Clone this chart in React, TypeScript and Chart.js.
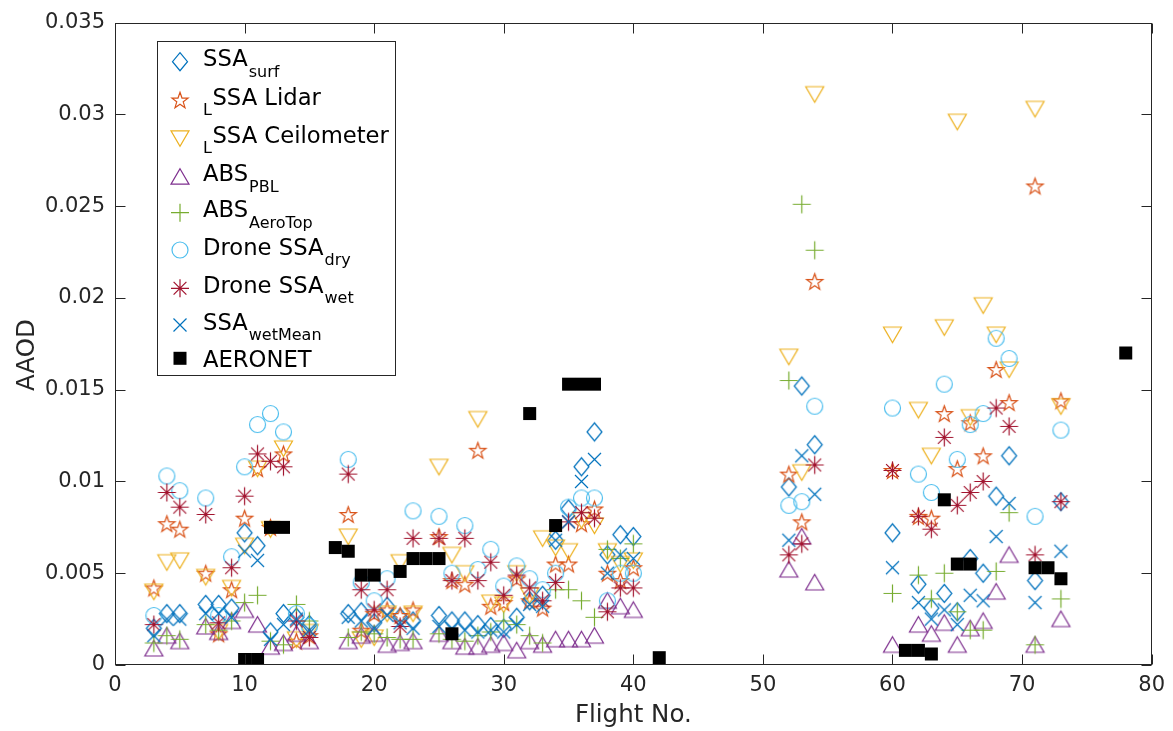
import React, { useEffect, useRef } from 'react';
import { Chart, registerables } from 'chart.js';

Chart.register(...registerables);

// ---------------- data ----------------
const flights = [
  3, 4, 5, 7, 8, 9, 10, 11, 12, 13, 14, 15,
  18, 19, 20, 21, 22, 23, 25, 26, 27, 28, 29, 30,
  31, 32, 33, 34, 35, 36, 37, 38, 39, 40,
  52, 53, 54,
  60, 62, 63, 64, 65, 66, 67, 68, 69,
  71, 73,
];

const ssaSurf = [
  0.0020, 0.0028, 0.0028, 0.0033, 0.0033, 0.0031, 0.0072, 0.0065, 0.0018, 0.0028, 0.0026, 0.0022,
  0.0028, 0.0029, 0.0023, 0.0032, 0.0026, 0.0024, 0.0027, 0.0024, 0.0024, 0.0022, 0.0021, 0.0020,
  0.0026, 0.0035, 0.0038, 0.0068, 0.0085, 0.0108, 0.0127, 0.0060, 0.0071, 0.0070,
  0.0097, 0.0152, 0.0120,
  0.0072, 0.0044, 0.0031, 0.0039, 0.0029, 0.0058, 0.0050, 0.0092, 0.0114,
  0.0046, 0.0089,
];

const ssaLidar = [
  0.0042, 0.0077, 0.0074, 0.0050, 0.0017, 0.0041, 0.0080, 0.0107, 0.0075, 0.0115, 0.0013, 0.0016,
  0.0082, 0.0019, 0.0028, 0.0030, 0.0027, 0.0030, 0.0070, 0.0046, 0.0044, 0.0117, 0.0032, 0.0034,
  0.0047, 0.0035, 0.0031, 0.0055, 0.0055, 0.0077, 0.0085, 0.0050, 0.0046, 0.0053,
  0.0104, 0.0078, 0.0209,
  0.0106, 0.0081, 0.0080, 0.0137, 0.0107, 0.0132, 0.0114, 0.0161, 0.0143,
  0.0261, 0.0144,
];

const ssaCeil = [
  0.0040, 0.0056, 0.0057, 0.0048, 0.0018, 0.0042, 0.0065, 0.0107, 0.0074, 0.0118, 0.0014, 0.0018,
  0.0070, 0.0014, 0.0015, 0.0028, 0.0056, 0.0028, 0.0108, 0.0060, 0.0050, 0.0134, 0.0034, 0.0033,
  0.0050, 0.0038, 0.0069, 0.0064, 0.0062, 0.0079, 0.0076, 0.0062, 0.0055, 0.0057,
  0.0168, 0.0105, 0.0311,
  0.0180, 0.0139, 0.0114, 0.0184, 0.0296, 0.0135, 0.0196, 0.0180, 0.0161,
  0.0303, 0.0141,
];

const absPBL = [
  0.0009, 0.0016, 0.0013, 0.0021, 0.0018, 0.0024, 0.0030, 0.0022, 0.0010, 0.0012, 0.0017, 0.0013,
  0.0013, 0.0016, 0.0017, 0.0011, 0.0012, 0.0013, 0.0017, 0.0013, 0.0010, 0.0010, 0.0011, 0.0012,
  0.0008, 0.0013, 0.0011, 0.0014, 0.0014, 0.0014, 0.0016, 0.0035, 0.0032, 0.0030,
  0.0052, 0.0070, 0.0045,
  0.0011, 0.0022, 0.0017, 0.0023, 0.0011, 0.0020, 0.0024, 0.0040, 0.0060,
  0.0011, 0.0025,
];

const absAeroTop = [
  0.0012, 0.0016, 0.0014, 0.0022, 0.0019, 0.0024, 0.0034, 0.0038, 0.0013, 0.0011, 0.0033, 0.0024,
  0.0015, 0.0018, 0.0017, 0.0015, 0.0014, 0.0014, 0.0017, 0.0014, 0.0013, 0.0016, 0.0018, 0.0024,
  0.0022, 0.0016, 0.0012, 0.0041, 0.0041, 0.0035, 0.0026, 0.0063, 0.0058, 0.0066,
  0.0155, 0.0251, 0.0226,
  0.0039, 0.0049, 0.0036, 0.0050, 0.0029, 0.0019, 0.0019, 0.0051, 0.0083,
  0.0011, 0.0036,
];

const droneDry = [
  0.0027, 0.0103, 0.0095, 0.0091, 0.0027, 0.0059, 0.0108, 0.0131, 0.0137, 0.0127, 0.0028, 0.0021,
  0.0112, 0.0045, 0.0035, 0.0047, null, 0.0084, 0.0081, 0.0050, 0.0076, 0.0052, 0.0063, 0.0043,
  0.0054, 0.0047, 0.0041, 0.0050, 0.0086, 0.0091, 0.0091, 0.0035, 0.0050, 0.0050,
  0.0087, 0.0089, 0.0141,
  0.0140, 0.0104, 0.0094, 0.0153, 0.0112, 0.0131, 0.0137, 0.0178, 0.0167,
  0.0081, 0.0128,
];

const droneWet = [
  0.0022, 0.0094, 0.0086, 0.0082, 0.0023, 0.0053, 0.0092, 0.0115, 0.0111, 0.0108, 0.0024, 0.0015,
  0.0104, 0.0041, 0.0030, 0.0041, 0.0021, 0.0069, 0.0069, 0.0046, 0.0069, 0.0046, 0.0056, 0.0038,
  0.0049, 0.0042, 0.0035, 0.0045, 0.0078, 0.0083, 0.0080, 0.0029, 0.0042, 0.0042,
  0.0060, 0.0066, 0.0109,
  0.0106, 0.0081, 0.0074, 0.0124, 0.0087, 0.0094, 0.0100, 0.0140, 0.0130,
  0.0060, 0.0089,
];

const ssaWetMean = [
  0.0016, 0.0025, 0.0025, 0.0028, 0.0028, 0.0026, 0.0062, 0.0057, 0.0014, 0.0022, 0.0025, 0.0019,
  0.0026, 0.0024, 0.0020, 0.0027, 0.0023, 0.0020, 0.0021, 0.0020, 0.0019, 0.0018, 0.0019, 0.0018,
  0.0022, 0.0033, 0.0032, 0.0068, 0.0078, 0.0100, 0.0112, 0.0050, 0.0060, 0.0058,
  0.0068, 0.0114, 0.0093,
  0.0053, 0.0034, 0.0025, 0.0030, 0.0022, 0.0038, 0.0035, 0.0070, 0.0088,
  0.0034, 0.0062,
];

const aeronetFlights = [10, 11, 12, 13, 17, 18, 19, 20, 22, 23, 24, 25, 26, 32, 34, 35, 36, 37, 42, 61, 62, 63, 64, 65, 66, 71, 72, 73, 78];
const aeronetAAOD = [
  0.0003, 0.0003, 0.0075, 0.0075, 0.0064, 0.0062, 0.0049, 0.0049, 0.0051, 0.0058, 0.0058, 0.0058, 0.0017,
  0.0137, 0.0076, 0.0153, 0.0153, 0.0153, 0.0004, 0.0008, 0.0008, 0.0006, 0.0090, 0.0055, 0.0055,
  0.0053, 0.0053, 0.0047, 0.0170,
];

const xTicks = [0, 10, 20, 30, 40, 50, 60, 70, 80];
const yTicks = [0, 0.005, 0.01, 0.015, 0.02, 0.025, 0.03, 0.035];

const xTitle = 'Flight No.';
const yTitle = 'AAOD';

type Kind = 'diamond' | 'star' | 'triDown' | 'triUp' | 'plus' | 'circle' | 'asterisk' | 'x' | 'square';

const seriesDefs: { kind: Kind; color: string; pre: string; main: string; sub: string; xs: number[]; ys: (number | null)[] }[] = [
  { kind: 'diamond', color: '#0072BD', pre: '', main: 'SSA', sub: 'surf', xs: flights, ys: ssaSurf },
  { kind: 'star', color: '#D95319', pre: 'L', main: 'SSA Lidar', sub: '', xs: flights, ys: ssaLidar },
  { kind: 'triDown', color: '#EDB120', pre: 'L', main: 'SSA Ceilometer', sub: '', xs: flights, ys: ssaCeil },
  { kind: 'triUp', color: '#7E2F8E', pre: '', main: 'ABS', sub: 'PBL', xs: flights, ys: absPBL },
  { kind: 'plus', color: '#77AC30', pre: '', main: 'ABS', sub: 'AeroTop', xs: flights, ys: absAeroTop },
  { kind: 'circle', color: '#4DBEEE', pre: '', main: 'Drone SSA', sub: 'dry', xs: flights, ys: droneDry },
  { kind: 'asterisk', color: '#A2142F', pre: '', main: 'Drone SSA', sub: 'wet', xs: flights, ys: droneWet },
  { kind: 'x', color: '#0072BD', pre: '', main: 'SSA', sub: 'wetMean', xs: flights, ys: ssaWetMean },
  { kind: 'square', color: '#000000', pre: '', main: 'AERONET', sub: '', xs: aeronetFlights, ys: aeronetAAOD },
];

// ---------------- drawing helpers ----------------
const AXIS_COLOR = '#262626';
const FONT = '"DejaVu Sans", "Liberation Sans", sans-serif';
const MARKER_LW = 1.2;

function drawMarkerAt(ctx: CanvasRenderingContext2D, kind: Kind, x: number, y: number, color: string) {
  ctx.save();
  ctx.strokeStyle = color;
  ctx.fillStyle = color;
  ctx.lineWidth = MARKER_LW;
  ctx.beginPath();
  switch (kind) {
    case 'diamond':
      ctx.moveTo(x, y - 9);
      ctx.lineTo(x + 7.5, y);
      ctx.lineTo(x, y + 9);
      ctx.lineTo(x - 7.5, y);
      ctx.closePath();
      ctx.stroke();
      break;
    case 'star': {
      const r = 8.5;
      const ri = r * 0.4;
      for (let k = 0; k < 10; k++) {
        const rr = k % 2 === 0 ? r : ri;
        const a = -Math.PI / 2 + (k * Math.PI) / 5;
        const px = x + rr * Math.cos(a);
        const py = y + 0.8 + rr * Math.sin(a);
        if (k === 0) ctx.moveTo(px, py);
        else ctx.lineTo(px, py);
      }
      ctx.closePath();
      ctx.stroke();
      break;
    }
    case 'triDown':
      ctx.moveTo(x - 9, y - 7.5);
      ctx.lineTo(x + 9, y - 7.5);
      ctx.lineTo(x, y + 8);
      ctx.closePath();
      ctx.stroke();
      break;
    case 'triUp':
      ctx.moveTo(x, y - 8);
      ctx.lineTo(x + 9, y + 7.5);
      ctx.lineTo(x - 9, y + 7.5);
      ctx.closePath();
      ctx.stroke();
      break;
    case 'plus':
      ctx.moveTo(x - 9, y);
      ctx.lineTo(x + 9, y);
      ctx.moveTo(x, y - 9);
      ctx.lineTo(x, y + 9);
      ctx.stroke();
      break;
    case 'circle':
      ctx.arc(x, y, 8, 0, Math.PI * 2);
      ctx.stroke();
      break;
    case 'asterisk': {
      const d = 9;
      const e = 6.4;
      ctx.moveTo(x - d, y);
      ctx.lineTo(x + d, y);
      ctx.moveTo(x, y - d);
      ctx.lineTo(x, y + d);
      ctx.moveTo(x - e, y - e);
      ctx.lineTo(x + e, y + e);
      ctx.moveTo(x - e, y + e);
      ctx.lineTo(x + e, y - e);
      ctx.stroke();
      break;
    }
    case 'x': {
      const e = 6.5;
      ctx.moveTo(x - e, y - e);
      ctx.lineTo(x + e, y + e);
      ctx.moveTo(x - e, y + e);
      ctx.lineTo(x + e, y - e);
      ctx.stroke();
      break;
    }
    case 'square':
      ctx.fillRect(x - 6.5, y - 6.5, 13, 13);
      break;
  }
  ctx.restore();
}

function makeMarkerImage(kind: Kind, color: string): HTMLCanvasElement {
  const c = document.createElement('canvas');
  c.width = 25;
  c.height = 25;
  const ctx = c.getContext('2d')!;
  drawMarkerAt(ctx, kind, 12.5, 12.5, color);
  return c;
}

// ---------------- plugins ----------------
const framePlugin = {
  id: 'matlabFrame',
  afterDraw(chart: any) {
    const { ctx, chartArea: a, scales } = chart;
    const L = Math.round(a.left) + 0.5;
    const R = Math.round(a.right) - 0.5;
    const T = Math.round(a.top) + 0.5;
    const B = Math.round(a.bottom) - 0.5;
    ctx.save();
    ctx.strokeStyle = AXIS_COLOR;
    ctx.lineWidth = 1;
    ctx.strokeRect(L, T, R - L, B - T);
    const tl = 10;
    ctx.beginPath();
    for (const v of xTicks) {
      const px = Math.round(scales.x.getPixelForValue(v)) + 0.5;
      ctx.moveTo(px, B);
      ctx.lineTo(px, B - tl);
      ctx.moveTo(px, T);
      ctx.lineTo(px, T + tl);
    }
    for (const v of yTicks) {
      const py = Math.round(scales.y.getPixelForValue(v)) + 0.5;
      ctx.moveTo(L, py);
      ctx.lineTo(L + tl, py);
      ctx.moveTo(R, py);
      ctx.lineTo(R - tl, py);
    }
    ctx.stroke();

    // axis titles
    ctx.fillStyle = AXIS_COLOR;
    ctx.font = `24.5px ${FONT}`;
    ctx.textAlign = 'center';
    ctx.textBaseline = 'middle';
    ctx.fillText(xTitle, (a.left + a.right) / 2, 716);
    ctx.save();
    ctx.translate(28, 355);
    ctx.rotate(-Math.PI / 2);
    ctx.fillText(yTitle, 0, 0);
    ctx.restore();

    // legend
    const box = { x: 157.5, y: 41.5, w: 238, h: 334 };
    ctx.fillStyle = '#ffffff';
    ctx.fillRect(box.x, box.y, box.w, box.h);
    ctx.strokeStyle = AXIS_COLOR;
    ctx.lineWidth = 1;
    ctx.strokeRect(box.x, box.y, box.w, box.h);
    const rowY = [61.7, 100, 138.3, 176.7, 212.7, 250, 288.3, 325, 358.3];
    const markerX = 180;
    const textX = 203;
    ctx.textAlign = 'left';
    ctx.textBaseline = 'alphabetic';
    seriesDefs.forEach((s, i) => {
      const y = rowY[i];
      drawMarkerAt(ctx, s.kind, markerX, y, s.color);
      ctx.fillStyle = '#000000';
      let x = textX;
      let base = y + 4.5;
      if (s.pre) {
        base = y + 5;
        ctx.font = `16px ${FONT}`;
        ctx.fillText(s.pre, x, base + 10);
        x += ctx.measureText(s.pre).width + 0.5;
      }
      if (!s.pre && !s.sub) base = y + 8.3;
      ctx.font = `22.7px ${FONT}`;
      ctx.fillText(s.main, x, base);
      x += ctx.measureText(s.main).width;
      if (s.sub) {
        ctx.font = `16px ${FONT}`;
        ctx.fillText(s.sub, x + 1, base + 10.5);
      }
    });
    ctx.restore();
  },
};

// ---------------- component ----------------
export default function App() {
  const ref = useRef<HTMLCanvasElement>(null);

  useEffect(() => {
    if (!ref.current) return;
    const n = seriesDefs.length;
    const datasets = seriesDefs.map((s, i) => {
      const img = makeMarkerImage(s.kind, s.color);
      const data: { x: number; y: number }[] = [];
      s.xs.forEach((fx, j) => {
        const v = s.ys[j];
        if (v !== null && v !== undefined) data.push({ x: fx, y: v });
      });
      return {
        label: s.main + (s.sub ? ' ' + s.sub : ''),
        data,
        pointStyle: img as any,
        pointRadius: 9,
        pointHoverRadius: 9,
        backgroundColor: s.color,
        borderColor: s.color,
        showLine: false,
        order: n - 1 - i,
      };
    });

    const chart = new Chart(ref.current, {
      type: 'scatter',
      data: { datasets },
      plugins: [framePlugin],
      options: {
        responsive: false,
        animation: false,
        events: [],
        layout: { padding: { left: 0, right: 16, top: 20, bottom: 0 } },
        plugins: {
          legend: { display: false },
          tooltip: { enabled: false },
          title: { display: false },
        },
        scales: {
          x: {
            type: 'linear',
            min: 0,
            max: 80,
            afterFit: (scale: any) => {
              scale.height = 66;
            },
            afterBuildTicks: (scale: any) => {
              scale.ticks = xTicks.map((v) => ({ value: v }));
            },
            grid: { display: false, drawTicks: false },
            border: { display: false },
            ticks: {
              color: AXIS_COLOR,
              font: { family: FONT, size: 21 },
              padding: 8,
              callback: (v: any) => String(v),
            },
          },
          y: {
            type: 'linear',
            min: 0,
            max: 0.035,
            afterFit: (scale: any) => {
              scale.width = 115;
            },
            afterBuildTicks: (scale: any) => {
              scale.ticks = yTicks.map((v) => ({ value: v }));
            },
            grid: { display: false, drawTicks: false },
            border: { display: false },
            ticks: {
              color: AXIS_COLOR,
              font: { family: FONT, size: 21 },
              padding: 10,
              callback: (v: any) => {
                const num = Number(v);
                if (num === 0) return '0';
                return num.toFixed(3).replace(/0+$/, '');
              },
            },
          },
        },
      },
    } as any);

    return () => chart.destroy();
  }, []);

  return (
    <div style={{ position: 'absolute', left: 0, top: 0, width: 1173, height: 731, background: '#ffffff' }}>
      <canvas ref={ref} width={1173} height={731} style={{ display: 'block' }} />
    </div>
  );
}
